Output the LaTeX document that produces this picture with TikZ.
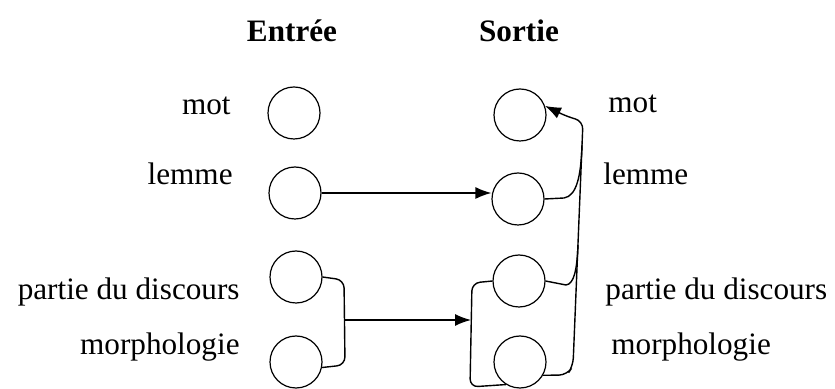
\documentclass[tikz,border=0pt]{standalone}
\usepackage{fontspec}
\setmainfont{Liberation Serif}
\usetikzlibrary{arrows.meta}

\tikzset{
  etat/.style = {draw, circle, minimum size=26pt, inner sep=0pt, line width=0.6pt},
  etiq/.style = {font=\fontsize{15.6}{18}\selectfont, inner sep=0pt},
  titre/.style = {font=\fontsize{15.6}{18}\selectfont\bfseries, inner sep=0pt},
  lien/.style = {line width=0.7pt},
  fleche/.style = {lien, -{Latex[length=8pt,width=6pt]}},
}

\begin{document}
\begin{tikzpicture}[x=0.5pt, y=-0.5pt]
    \useasboundingbox (0,0) rectangle (835,389);
    % titres
    \node[titre, anchor = base] (entree) at (292,42) {Entrée};
    \node[titre, anchor = base] (sortie) at (519,42) {Sortie};
    % entree
    \node[etat] (emot) at (294,113) {};
    \node[etat] (elem) at (295,193) {};
    \node[etat] (epar) at (296,277) {};
    \node[etat] (emor) at (296,362) {};
    \node[etiq, anchor = base east] (lemot) at (231,115) {mot};
    \node[etiq, anchor = base east] (lelem) at (233,185) {lemme};
    \node[etiq, anchor = base east] (lepar) at (240,300) {partie du discours};
    \node[etiq, anchor = base east] (lemor) at (240,355) {morphologie};
    % sortie
    \node[etat] (smot) at (520,115) {};
    \node[etat] (slem) at (518,199) {};
    \node[etat] (spar) at (519,281) {};
    \node[etat] (smor) at (520,362) {};
    \node[etiq, anchor = base west] (rsmot) at (608,113) {mot};
    \node[etiq, anchor = base west] (rslem) at (603,185) {lemme};
    \node[etiq, anchor = base west] (rspar) at (605,300) {partie du discours};
    \node[etiq, anchor = base west] (rsmor) at (611,355) {morphologie};
    % points de passage
    \coordinate (gauche) at (345,320);
    \coordinate (droite) at (471,320);
    \coordinate (haut) at (583,121);
    \coordinate (bas) at (573,366);
    % liens
    \draw[fleche] (elem.east) -- (elem.east -| slem.west);
    \draw[lien, rounded corners=4] (epar.east) -- (344,280) -- (345,365) -- (emor.-12);
    \draw[fleche] (gauche) -- (droite);
    \draw[lien, rounded corners=4] (spar.west) -- (472,283) -- (470,387) -- (smor.-122);
    \draw[fleche, rounded corners=4] (smor.-30) -- (567,375) -- (bas) -- (haut) -- (568,117) -- (smot.20);
    \draw[lien] (spar.east) -- (566,285) .. controls (574,284) and (577,270) .. (578,245);
    \draw[lien] (slem.east) -- (564,198) .. controls (577,196) and (581,175) .. (582,145);
\end{tikzpicture}
\end{document}
